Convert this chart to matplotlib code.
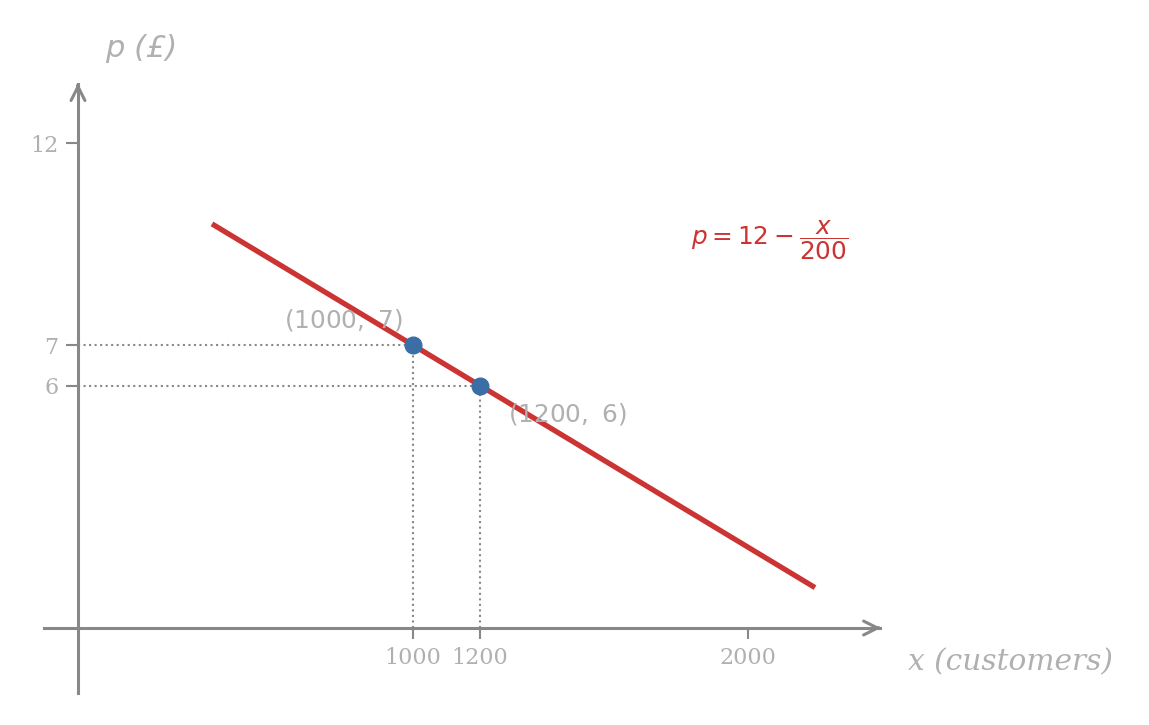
import matplotlib.pyplot as plt

# demand line p = 12 - x/200
line_x = [400, 2200]
line_p = [10, 1]
point_x = [1000, 1200]
point_p = [7, 6]
point_labels = [r'$(1000,\ 7)$', r'$(1200,\ 6)$']
xticks = [1000, 1200, 2000]
yticks = [6, 7, 12]

fig = plt.figure(figsize=(11.49, 7.25), dpi=100)
ax = fig.add_axes([0, 0, 1, 1])
ax.set_xlim(-232.8, 3197)
ax.set_ylim(-2.40, 15.54)

axis_col = '#888888'
text_col = '#b0b0b0'

for s in ['top', 'right']:
    ax.spines[s].set_visible(False)
ax.spines['left'].set_position(('data', 0))
ax.spines['bottom'].set_position(('data', 0))
ax.spines['bottom'].set_bounds(-100, 2395)
ax.spines['left'].set_bounds(-1.6, 13.45)
for s in ['left', 'bottom']:
    ax.spines[s].set_color(axis_col)
    ax.spines[s].set_linewidth(2.2)

# arrow heads
ax.annotate('', xy=(2405, 0), xytext=(2380, 0),
            arrowprops=dict(arrowstyle='->', color=axis_col, lw=2.2, mutation_scale=25))
ax.annotate('', xy=(0, 13.55), xytext=(0, 13.35),
            arrowprops=dict(arrowstyle='->', color=axis_col, lw=2.2, mutation_scale=25))

ax.set_xticks(xticks)
ax.set_yticks(yticks)
ax.tick_params(axis='x', length=8, width=1.5, color=axis_col, pad=6,
               labelsize=16, labelcolor=text_col)
ax.tick_params(axis='y', length=9, width=1.5, color=axis_col, pad=5,
               labelsize=16, labelcolor=text_col)
for lab in ax.get_xticklabels() + ax.get_yticklabels():
    lab.set_family('DejaVu Serif')
    lab.set_fontsize(16)

# guide lines
for px, pp in zip(point_x, point_p):
    ax.plot([0, px], [pp, pp], ls=':', color=axis_col, lw=1.5, zorder=1)
    ax.plot([px, px], [0, pp], ls=':', color=axis_col, lw=1.5, zorder=1)

ax.plot(line_x, line_p, color='#cc3333', lw=3.8, solid_capstyle='butt', zorder=2)
ax.plot(point_x, point_p, 'o', color='#3a6ea5', ms=12, zorder=3)

ax.text(968, 7.3, point_labels[0], fontsize=17.8, color=text_col, ha='right', va='bottom')
ax.text(1285, 4.97, point_labels[1], fontsize=17.8, color=text_col, ha='left', va='bottom')

ax.text(1830, 9.6, r'$p = 12 - \dfrac{x}{200}$', fontsize=17.8, color='#cc3333',
        ha='left', va='center')

ax.text(2478, -0.85, 'x (customers)', fontsize=21.3, color=text_col, family='DejaVu Serif',
        style='italic', ha='left', va='center')
ax.text(80, 14.35, 'p (£)', fontsize=22, color=text_col, style='italic',
        ha='left', va='center')

fig.savefig('out.png', dpi=100)
